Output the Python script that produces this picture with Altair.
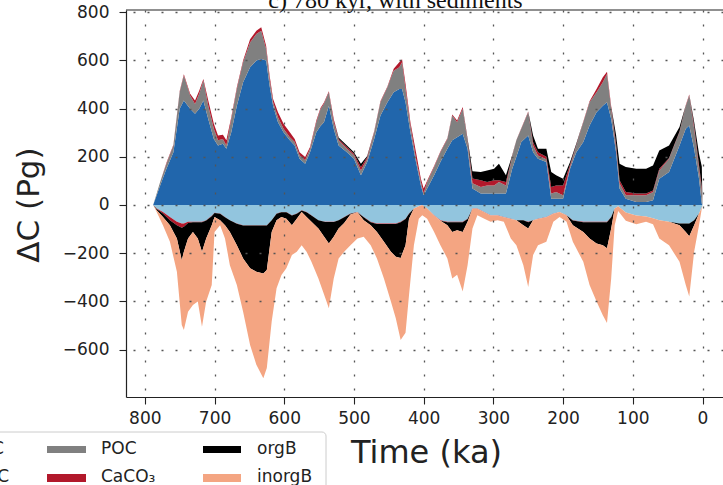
import altair as alt
import pandas as pd

# ---------------- data ----------------
# positive side: time (ka) and layer thicknesses (Pg C)
t_pos = [788, 778, 769, 759, 750, 744, 735, 728, 722, 716,
         709, 701, 695, 688, 683, 676, 668, 659, 649, 640,
         633, 626, 621, 616, 609, 601, 592, 585, 578, 570,
         563, 554, 548, 543, 536, 529, 522, 510, 500, 490,
         481, 471, 462, 452, 443, 435, 431, 426, 419, 411,
         404, 400, 395, 385, 376, 366, 359, 352, 344, 337,
         330, 318, 309, 299, 292, 282, 273, 267, 260, 250,
         243, 236, 224, 217, 210, 200, 190, 181, 171, 162,
         152, 143, 137, 131, 124, 119, 110, 95, 81, 71,
         62, 48, 33, 24, 19, 12, 5, 1, 0]
dic_pos = [0, 81, 150, 219, 399, 433, 399, 378, 399, 433,
           357, 274, 247, 254, 233, 302, 412, 509, 571, 599,
           606, 599, 495, 412, 343, 302, 268, 247, 192, 171,
           219, 302, 328, 343, 412, 316, 247, 219, 192, 123,
           178, 274, 371, 426, 468, 481, 481, 426, 302, 178,
           81, 40, 68, 123, 178, 233, 268, 281, 295, 233,
           68, 47, 47, 47, 47, 47, 150, 200, 261, 288,
           219, 192, 178, 26, 26, 26, 150, 219, 261, 330,
           385, 412, 426, 357, 219, 68, 26, 12, 12, 19,
           109, 137, 247, 316, 330, 233, 109, 5, 0]
poc_pos = [0, 14, 21, 28, 69, 104, 55, 41, 62, 83,
           55, 42, 21, 20, 14, 55, 69, 83, 103, 110,
           117, 48, 28, 14, 21, 14, 13, 14, 14, 14,
           14, 41, 69, 77, 56, 27, 21, 14, 14, 20,
           14, 28, 55, 62, 89, 90, 111, 55, 28, 14,
           14, 7, 27, 34, 41, 41, 103, 62, 104, 28,
           22, 27, 34, 34, 48, 34, 50, 68, 55, 97,
           28, 13, 12, 21, 28, 14, 10, 28, 82, 96,
           83, 97, 117, 42, 21, 22, 14, 28, 28, 35,
           34, 55, 55, 96, 124, 83, 41, 55, 0]
caco3_pos = [0, 0, 4, 3, 4, 5, 7, 14, 13, 7,
             21, 21, 20, 17, 21, 7, 7, 7, 14, 14,
             14, 14, 14, 14, 21, 21, 21, 13, 13, 14,
             7, 7, 5, 5, 4, 14, 6, 7, 6, 14,
             7, 4, 4, 4, 8, 21, 13, 21, 13, 27,
             14, 21, 5, 5, 3, 3, 4, 7, 7, 7,
             20, 28, 14, 21, 7, 14, 3, 2, 2, 3,
             13, 14, 10, 27, 27, 41, 8, 3, 3, 4,
             13, 21, 10, 11, 15, 12, 14, 7, 7, 6,
             7, 3, 3, 3, 4, 14, 15, 15, 0]
orgb_pos = [0, 0, 0, 0, 0, 0, 0, 0, 0, 0,
            0, 0, 0, 0, 0, 0, 0, 0, 0, 0,
            0, 0, 0, 0, 0, 0, 0, 0, 0, 0,
            0, 0, 0, 0, 0, 0, 6, 7, 7, 14,
            4, 0, 0, 0, 0, 0, 0, 0, 0, 0,
            0, 0, 0, 0, 0, 0, 0, 0, 0, 7,
            30, 35, 48, 48, 69, 28, 3, 0, 0, 0,
            28, 14, 33, 63, 42, 28, 10, 5, 0, 0,
            0, 0, 0, 0, 35, 69, 103, 103, 103, 104,
            76, 52, 18, 0, 0, 15, 47, 85, 0]

# negative side
t_neg = [788, 783, 774, 764, 754, 747, 744, 738, 731, 724,
         718, 712, 704, 700, 692, 685, 678, 668, 659, 649,
         640, 630, 625, 618, 611, 604, 597, 589, 582, 575,
         568, 561, 551, 541, 536, 529, 522, 514, 505, 495,
         486, 476, 467, 457, 447, 440, 433, 426, 421, 414,
         407, 402, 395, 385, 376, 366, 359, 352, 344, 337,
         330, 323, 313, 304, 294, 285, 275, 267, 257, 250,
         243, 236, 224, 214, 205, 195, 186, 171, 162, 152,
         143, 137, 131, 126, 121, 110, 95, 81, 71, 62,
         48, 33, 24, 19, 12, 5, 1, 0]
atm_neg = [0, -15, -29, -50, -70, -77, -77, -70, -70, -70,
           -70, -63, -45, -32, -36, -50, -63, -77, -84, -84,
           -84, -84, -84, -63, -36, -29, -29, -43, -36, -22,
           -29, -43, -63, -70, -70, -70, -63, -50, -36, -29,
           -50, -70, -77, -77, -77, -77, -70, -57, -36, -15,
           -5, 0, -15, -43, -63, -70, -70, -70, -70, -57,
           -15, -15, -29, -43, -43, -50, -57, -63, -63, -70,
           -63, -57, -50, -36, -29, -43, -63, -70, -70, -70,
           -70, -70, -50, -15, -5, -31, -44, -48, -55, -63,
           -70, -77, -77, -77, -63, -36, -10, 0]
caco3_neg = [0, -2, -7, -13, -14, -18, -13, -5, -2, -2,
             -2, -2, -2, -1, -1, -1, -1, -1, -1, -1,
             -1, -1, -1, -1, -1, -1, -1, -1, -1, -1,
             -1, -1, -1, -1, -1, -1, -1, -1, -1, -1,
             -1, -2, -2, -2, -2, -2, -2, -1, -1, 0,
             0, 0, 0, -1, -3, -2, -2, -2, -2, -1,
             -1, -1, -1, -1, -1, -1, -1, -1, -1, -2,
             -1, -1, -1, -1, 0, -1, -2, -2, -2, -2,
             -2, -2, -1, 0, 0, 0, 0, 0, 0, 0,
             0, 0, 0, 0, 0, 0, 0, 0]
orgb_neg = [0, -5, -14, -21, -55, -134, -104, -64, -40, -67,
            -122, -74, -37, -17, -26, -33, -48, -89, -137, -178,
            -192, -199, -185, -48, -26, -20, -27, -40, -20, -6,
            -20, -26, -34, -68, -89, -61, -34, -24, -3, 0,
            -12, -12, -33, -74, -115, -136, -148, -109, -20, 0,
            0, 0, 0, 0, 0, -12, -40, -33, -40, -12,
            0, 0, 0, 0, 0, 0, 0, 0, -20, -26,
            0, 0, 0, 0, 0, 0, -19, -40, -67, -88,
            -95, -108, -47, 0, 0, 0, 0, 0, 0, 0,
            0, -7, -35, -53, -21, 0, 0, 0]
inorgb_neg = [0, -7, -34, -69, -138, -269, -325, -304, -303, -262,
              -311, -262, -248, -62, -21, -55, -138, -165, -221, -318,
              -386, -435, -407, -372, -283, -241, -206, -124, -137, -138,
              -144, -166, -207, -248, -269, -173, -124, -119, -127, -109,
              -69, -83, -110, -152, -207, -255, -340, -363, -317, -152,
              -52, -43, -42, -68, -101, -138, -193, -185, -247, -180,
              -82, -27, -27, -26, -19, -19, -81, -103, -166, -242,
              -144, -109, -102, -33, -21, -26, -69, -124, -193, -241,
              -291, -310, -207, -69, -20, -35, -36, -22, -25, -76,
              -97, -152, -220, -250, -110, -48, -5, 0]

x_ticks = [0, 100, 200, 300, 400, 500, 600, 700, 800]
y_ticks = [-600, -400, -200, 0, 200, 400, 600, 800]

C_DIC = "#2166ac"
C_ATM = "#92c5de"
C_POC = "#808080"
C_CACO3 = "#b2182b"
C_ORGB = "#000000"
C_INORGB = "#f4a582"

# ---------------- build stacked table ----------------
rows = []
def add_stack(times, layers):
    base = [0.0] * len(times)
    for key, vals in layers:
        for i, t in enumerate(times):
            lo = base[i]
            hi = lo + vals[i]
            rows.append({"t": t, "lo": lo, "hi": hi, "key": key})
            base[i] = hi

add_stack(t_pos, [("p_dic", dic_pos), ("p_poc", poc_pos),
                  ("p_caco3", caco3_pos), ("p_orgb", orgb_pos)])
add_stack(t_neg, [("n_atm", atm_neg), ("n_caco3", caco3_neg),
                  ("n_orgb", orgb_neg), ("n_inorgb", inorgb_neg)])
df = pd.DataFrame(rows)

keys = ["p_dic", "p_poc", "p_caco3", "p_orgb", "n_atm", "n_caco3", "n_orgb", "n_inorgb"]
cols = [C_DIC, C_POC, C_CACO3, C_ORGB, C_ATM, C_CACO3, C_ORGB, C_INORGB]

W, H = 597, 387
FONT = "DejaVu Sans"
INK = "#222222"

xscale = alt.Scale(domain=[-29.4, 827], reverse=True, nice=False, zero=False)
yscale = alt.Scale(domain=[-797, 809], nice=False, zero=False)

areas = alt.Chart(df).mark_area(interpolate="linear", strokeWidth=0).encode(
    x=alt.X("t:Q", scale=xscale,
            axis=alt.Axis(values=x_ticks, format="d", title=None,
                          labelFont=FONT, labelFontSize=17, labelColor=INK,
                          labelPadding=6, labelFlush=False,
                          tickSize=7, tickColor=INK, tickWidth=1.1,
                          domainColor=INK, domainWidth=1.2,
                          grid=True, gridDash=[2, 12], gridColor="#555555",
                          gridWidth=1.3, zindex=1)),
    y=alt.Y("hi:Q", scale=yscale,
            axis=alt.Axis(values=y_ticks, title=None,
                          labelExpr="replace(datum.label, '-', '\u2212')",
                          labelFont=FONT, labelFontSize=17, labelColor=INK,
                          labelPadding=10, labelFlush=False,
                          tickSize=7, tickColor=INK, tickWidth=1.1,
                          domainColor=INK, domainWidth=1.2,
                          grid=True, gridDash=[2, 12], gridColor="#555555",
                          gridWidth=1.3, zindex=1)),
    y2="lo:Q",
    color=alt.Color("key:N", scale=alt.Scale(domain=keys, range=cols), legend=None),
)

one = pd.DataFrame({"a": [0]})

top_spine = alt.Chart(one).mark_rule(color=INK, strokeWidth=1.2).encode(
    x=alt.value(0), x2=alt.value(W), y=alt.value(0))

def txt(s, x, y, size, font=FONT, align="left", angle=0, color=INK):
    return alt.Chart(one).mark_text(
        text=s, font=font, fontSize=size, align=align, baseline="alphabetic",
        angle=angle, color=color).encode(x=alt.value(x), y=alt.value(y))

def swatch(x0, x1, y0, y1, color):
    return alt.Chart(one).mark_rect(color=color).encode(
        x=alt.value(x0), x2=alt.value(x1), y=alt.value(y0), y2=alt.value(y1))

title = txt("c) 780 kyr, with sediments", 269.5, -2.5, 24,
            font="Liberation Serif", align="center", color="#111111")
ylabel = txt("\u0394C (Pg)", -87.5, 195, 31, align="center", angle=270)
xlabel = txt("Time (ka)", 300.5, 453, 32, align="center")

legend_frame = alt.Chart(one).mark_rect(
    fill="white", stroke="#cccccc", strokeWidth=1, cornerRadius=4).encode(
    x=alt.value(-200), x2=alt.value(200), y=alt.value(422), y2=alt.value(500))

legend = [
    legend_frame,
    txt("DIC", -122, 444, 17, align="right"),
    txt("atmC", -117, 472, 17, align="right"),
    swatch(-79, -40, 436, 443, C_POC),
    swatch(-79, -40, 464, 472, C_CACO3),
    txt("POC", -25, 444, 17),
    txt("CaCO\u2083", -25, 472, 17),
    swatch(77, 115, 436, 443, C_ORGB),
    swatch(77, 115, 464, 472, C_INORGB),
    txt("orgB", 131, 444, 17),
    txt("inorgB", 131, 472, 17),
]

chart = alt.layer(areas, top_spine, title, ylabel, xlabel, *legend).properties(
    width=W, height=H,
    autosize=alt.AutoSizeParams(type="none"),
    padding={"left": 126, "top": 10, "right": 0, "bottom": 88},
    background="white",
).configure_view(stroke=None)

chart.save("out.html", embed_options={"renderer": "svg", "actions": False})
